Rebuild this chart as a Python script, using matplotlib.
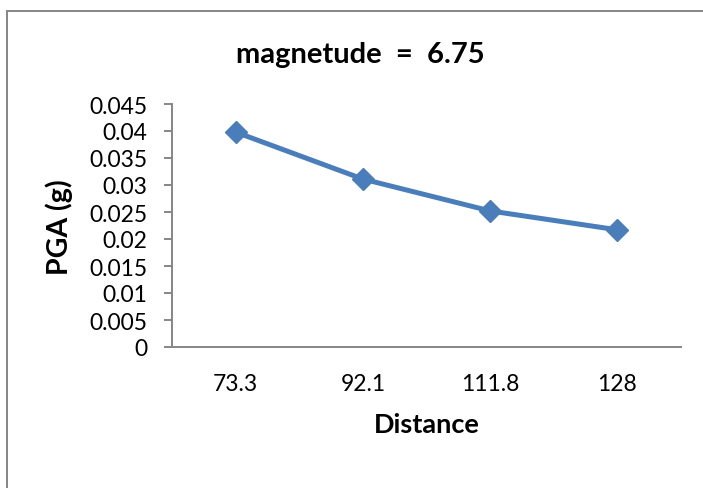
import numpy as np
import matplotlib
matplotlib.use("Agg")
import matplotlib.pyplot as plt
from matplotlib.lines import Line2D

plt.rcParams['font.family'] = ['Lato', 'DejaVu Sans']

distance = ['73.3', '92.1', '111.8', '128']
pga = [0.0398, 0.0311, 0.0252, 0.0217]
yticks = [0, 0.005, 0.01, 0.015, 0.02, 0.025, 0.03, 0.035, 0.04, 0.045]
ytick_labels = ['0', '0.005', '0.01', '0.015', '0.02', '0.025', '0.03', '0.035', '0.04', '0.045']

W, H = 703, 489
fig = plt.figure(figsize=(W / 100, H / 100), dpi=100)

# chart area border: only the top and left edges fall inside the image
border = dict(transform=fig.transFigure, color='#868686', linewidth=1.4)
fig.lines.append(Line2D([7 / W, 1.2], [(H - 12) / H] * 2, **border))
fig.lines.append(Line2D([7 / W] * 2, [-0.2, (H - 12) / H], **border))

ax = fig.add_axes([172 / W, (H - 348) / H, (681 - 172) / W, (348 - 105) / H])
x = np.arange(len(distance))
ax.plot(x, pga, color='#4A7EBB', linewidth=3.6, marker='D', markersize=11,
        solid_capstyle='round')

ax.set_xlim(-0.5, len(distance) - 0.5)
ax.set_ylim(0, 0.045)
ax.set_yticks(yticks)
ax.set_yticklabels(ytick_labels)
ax.set_xticks(x)
ax.set_xticklabels(distance)

for s in ['top', 'right']:
    ax.spines[s].set_visible(False)
for s in ['left', 'bottom']:
    ax.spines[s].set_color('#868686')
    ax.spines[s].set_linewidth(1.4)
ax.tick_params(axis='y', length=5.8, width=1.4, color='#868686', pad=12, labelsize=16.5)
ax.tick_params(axis='x', length=0, pad=19, labelsize=16.5)

ax.set_xlabel('Distance', fontsize=19.5, fontweight='bold', labelpad=13)
fig.text(59 / W, (H - 227) / H, 'PGA (g)', rotation=90, ha='center', va='center',
         fontsize=20.5, fontweight='bold')
fig.text(360 / W, (H - 55) / H, 'magnetude  =  6.75', ha='center', va='center',
         fontsize=21, fontweight='bold')

fig.savefig('out.png', dpi=100)
